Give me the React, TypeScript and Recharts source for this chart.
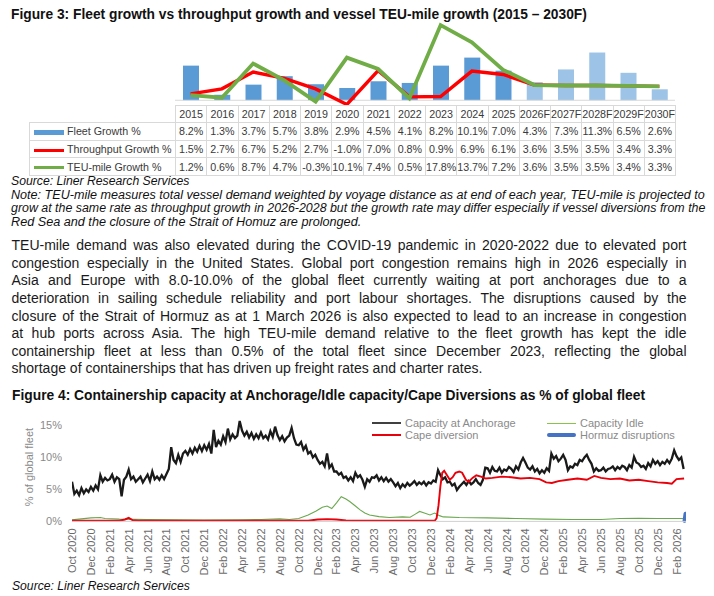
import { useLayoutEffect, useRef, useState } from 'react';
import { ComposedChart, Bar, Line, LineChart, XAxis, YAxis, Cell, ReferenceLine } from 'recharts';

// ---- Figure 3 data ----
const years = ['2015', '2016', '2017', '2018', '2019', '2020', '2021', '2022', '2023', '2024', '2025', '2026F', '2027F', '2028F', '2029F', '2030F'];
const fleetGrowth = [8.2, 1.3, 3.7, 5.7, 3.8, 2.9, 4.5, 4.1, 8.2, 10.1, 7.0, 4.3, 7.3, 11.3, 6.5, 2.6];
const throughputGrowth = [1.5, 2.7, 6.7, 5.2, 2.7, -1.0, 7.0, 0.8, 0.9, 6.9, 6.1, 3.6, 3.5, 3.5, 3.4, 3.3];
const teuMileGrowth = [1.2, 0.6, 8.7, 4.7, -0.3, 10.1, 7.4, 0.5, 17.8, 13.7, 7.2, 3.6, 3.5, 3.5, 3.4, 3.3];
const seriesNames = ['Fleet Growth %', 'Throughput Growth %', 'TEU-mile Growth %'];

// ---- Figure 4 data (months since Oct 2020) ----
const monthTicks = ['Oct 2020', 'Dec 2020', 'Feb 2021', 'Apr 2021', 'Jun 2021', 'Aug 2021', 'Oct 2021', 'Dec 2021', 'Feb 2022', 'Apr 2022', 'Jun 2022', 'Aug 2022', 'Oct 2022', 'Dec 2022', 'Feb 2023', 'Apr 2023', 'Jun 2023', 'Aug 2023', 'Oct 2023', 'Dec 2023', 'Feb 2024', 'Apr 2024', 'Jun 2024', 'Aug 2024', 'Oct 2024', 'Dec 2024', 'Feb 2025', 'Apr 2025', 'Jun 2025', 'Aug 2025', 'Oct 2025', 'Dec 2025', 'Feb 2026'];

// capacity at anchorage, read every quarter month
const anchorage = [
  6.2, 4.3, 4.8, 4.1, 5.2, 4.4, 5.0, 4.6,
  5.4, 4.8, 5.6, 5.0, 7.2, 6.2, 6.8, 6.4,
  6.6, 7.3, 6.2, 6.9, 6.6, 3.9, 6.5, 7.0,
  8.1, 6.6, 7.0, 6.2, 6.6, 7.0, 6.1, 6.7,
  7.3, 6.3, 7.8, 6.6, 7.0, 6.5, 7.2, 6.6,
  7.4, 8.2, 11.6, 9.6, 9.1, 10.4, 9.3, 10.6,
  11.0, 10.4, 11.3, 10.6, 11.5, 10.9, 11.8, 11.0,
  11.9, 11.2, 12.1, 10.6, 14.3, 11.6, 12.6, 12.0,
  13.3, 12.4, 14.5, 12.8, 13.6, 13.0, 13.4, 15.7,
  14.2, 13.4, 14.0, 13.1, 13.8, 12.9, 13.6, 13.0,
  13.9, 13.0, 13.4, 12.8, 14.1, 13.2, 14.8, 13.5,
  12.7, 13.3, 12.5, 13.1, 13.4, 14.6, 13.0, 12.0,
  11.9, 12.4, 11.2, 11.8, 10.6, 10.9, 10.0, 10.4,
  9.6, 9.0, 9.3, 8.6, 10.6, 8.4, 8.9, 7.8,
  7.8, 7.3, 7.6, 6.8, 7.0, 6.4, 6.9, 6.3,
  7.6, 6.9, 7.2, 6.5, 5.4, 6.6, 6.2, 6.9,
  6.8, 7.2, 6.4, 6.9, 6.3, 6.8, 6.2, 6.6,
  6.1, 5.5, 6.0, 5.2, 5.8, 5.4, 6.0, 5.6,
  5.9, 6.3, 5.7, 6.1, 5.8, 6.2, 5.6, 6.1,
  5.9, 6.4, 6.2, 8.0, 7.2, 6.6, 6.9, 6.1,
  6.2, 5.6, 5.9, 4.9, 5.4, 5.8, 6.2, 5.7,
  6.3, 5.8, 6.1, 6.6, 6.0, 5.7, 6.5, 8.4,
  8.3, 7.6, 8.5, 7.9, 7.8, 8.4, 7.6, 8.1,
  7.9, 8.5, 8.2, 7.7, 8.6, 8.1, 9.2, 9.9,
  9.2, 8.4, 8.1, 8.6, 7.8, 8.2, 7.5, 8.0,
  7.6, 8.3, 7.9, 10.6, 9.8, 10.2, 9.4, 9.8,
  10.4, 9.6, 8.0, 8.6, 8.4, 9.0, 8.8, 9.6,
  9.4, 10.0, 10.4, 9.6, 9.0, 7.8, 8.3, 7.9,
  8.0, 8.4, 7.8, 8.2, 8.3, 8.6, 8.0, 8.5,
  8.2, 8.7, 8.5, 8.0, 8.8, 8.4, 10.1, 9.2,
  9.0, 8.5, 8.7, 8.2, 9.1, 8.6, 9.6, 9.0,
  9.4, 8.8, 9.3, 9.0, 9.6, 9.1, 9.8, 11.1,
  10.2, 9.6, 10.0, 8.2,
];

const capeDiversion: [number, number][] = [
  [0, 0.1], [5, 0.1], [5.6, 0.3], [6.0, 0.55], [6.4, 0.2], [7, 0.1], [25, 0.1], [26, 0.3], [27, 0.35],
  [28, 0.3], [29, 0.15], [30, 0.1], [38.4, 0.1], [38.6, 0.5], [38.8, 2.5], [39.0, 5.5], [39.2, 7.6],
  [39.4, 7.9], [39.7, 7.2], [40.0, 6.5], [40.3, 6.9], [40.6, 7.6], [41.0, 7.8], [41.3, 7.6], [41.7, 6.5],
  [42.0, 6.2], [42.4, 6.8], [42.8, 7.2], [43.3, 7.0], [43.8, 6.7], [44.5, 6.8], [45.5, 7.0], [46.5, 6.9],
  [47.5, 6.7], [48.5, 6.8], [49.5, 6.6], [50.2, 6.1], [50.8, 6.0], [51.5, 6.3], [52.5, 6.5], [53.5, 6.7],
  [54.5, 6.5], [55.3, 7.1], [56, 6.8], [57, 6.6], [58, 6.7], [59, 6.4], [60, 6.5], [61, 6.3], [62, 6.1],
  [63, 6.0], [63.5, 5.9], [64, 6.6], [64.8, 6.7],
];

const capacityIdle: [number, number][] = [
  [0, 0.25], [1, 0.4], [2, 0.55], [3, 0.6], [3.5, 0.45], [5, 0.35], [8, 0.3], [14, 0.2], [18, 0.25],
  [20, 0.3], [22, 0.4], [23, 0.3], [24, 0.45], [25, 1.0], [25.8, 1.6], [26.5, 2.2], [27, 2.4], [27.5, 2.0],
  [28, 2.9], [28.5, 3.85], [29, 3.5], [29.4, 3.1], [30, 2.4], [30.5, 1.8], [31, 1.3], [31.5, 1.0],
  [32.5, 0.75], [33.6, 0.6], [35, 0.7], [35.8, 0.65], [36.3, 1.1], [36.8, 1.55], [37.3, 1.3], [37.9, 1.0],
  [38.4, 1.3], [38.9, 0.9], [39.3, 0.7], [41, 0.6], [44, 0.55], [47, 0.45], [50, 0.35], [53, 0.3],
  [56, 0.3], [58, 0.45], [60, 0.5], [62, 0.45], [64.8, 0.45],
];

const hormuz: [number, number][] = [[64.85, 0.1], [64.95, 1.2]];

const legend4 = ['Capacity at Anchorage', 'Capacity Idle', 'Cape diversion', 'Hormuz disruptions'];

const noteLines = [
  'Note: TEU-mile measures total vessel demand weighted by voyage distance as at end of each year, TEU-mile is projected to',
  'grow at the same rate as throughput growth in 2026-2028 but the growth rate may differ especially if vessel diversions from the',
  'Red Sea and the closure of the Strait of Homuz are prolonged.',
];

const paragraph = [
  'TEU-mile demand was also elevated during the COVID-19 pandemic in 2020-2022 due to elevated port',
  'congestion especially in the United States. Global port congestion remains high in 2026 especially in',
  'Asia and Europe with 8.0-10.0% of the global fleet currently waiting at port anchorages due to a',
  'deterioration in sailing schedule reliability and port labour shortages. The disruptions caused by the',
  'closure of the Strait of Hormuz as at 1 March 2026 is also expected to lead to an increase in congestion',
  'at hub ports across Asia. The high TEU-mile demand relative to the fleet growth has kept the idle',
  'containership fleet at less than 0.5% of the total fleet since December 2023, reflecting the global',
  'shortage of containerships that has driven up freight rates and charter rates.',
];

const FONT = '"Liberation Sans", Arial, sans-serif';
const BLUE = '#5b9bd5';
const BLUE_LIGHT = '#9dc3e6';
const RED = '#ff0000';
const GREEN = '#70ad47';

// text squeezed horizontally to a known width (narrow report font)
function Fit({ x, baseline, size, width, text, bold, italic, color = '#111' }: any) {
  const ref = useRef<HTMLSpanElement>(null);
  const [k, setK] = useState(1);
  useLayoutEffect(() => {
    if (ref.current && ref.current.offsetWidth) setK(width / ref.current.offsetWidth);
  }, [width, text]);
  return (
    <span
      ref={ref}
      style={{
        position: 'absolute', left: x, top: baseline - 0.8465 * size, fontSize: size, lineHeight: `${size}px`,
        whiteSpace: 'nowrap', fontWeight: bold ? 'bold' : 'normal', fontStyle: italic ? 'italic' : 'normal',
        color, transform: `scaleX(${k})`, transformOrigin: '0 0',
      }}
    >
      {text}
    </span>
  );
}

// body paragraph: justified lines, last line left
function Paragraph() {
  const size = 14;
  return (
    <>
      {paragraph.map((t, i) => {
        const last = i === paragraph.length - 1;
        return (
          <div
            key={i}
            style={{
              position: 'absolute', left: 11.5, top: 250 + i * 17.6 - 0.8465 * size, width: 675, fontSize: size,
              lineHeight: `${size}px`, color: '#1a1a1a', whiteSpace: 'nowrap',
              textAlign: last ? 'left' : 'justify', textAlignLast: last ? 'left' : 'justify',
            }}
          >
            {t}
          </div>
        );
      })}
    </>
  );
}

function LegendKey({ i }: { i: number }) {
  const c = [BLUE, RED, GREEN][i];
  const h = i === 0 ? 5 : 3;
  return <span style={{ display: 'inline-block', width: 30, height: h, background: c, marginRight: 3, verticalAlign: 'middle' }} />;
}

const XTick = ({ x, y, payload }: any) => (
  <text x={x} y={y} transform={`rotate(-90 ${x} ${y})`} textAnchor="end" dominantBaseline="central" fontSize={11} fill="#6b6b6b" fontFamily={FONT}>
    {monthTicks[Math.round(payload.value / 2)]}
  </text>
);

export default function App() {
  const fig3Data = years.map((y, i) => ({ year: y, fleet: fleetGrowth[i], throughput: throughputGrowth[i], teu: teuMileGrowth[i] }));
  const rows = [fleetGrowth, throughputGrowth, teuMileGrowth];

  const anchorData = anchorage.map((v, i) => ({ m: i * 0.25, v }));
  const toPts = (arr: [number, number][]) => arr.map(([m, v]) => ({ m, v }));

  const cell: React.CSSProperties = { border: '1px solid #d9d9d9', padding: 0, height: 16.6, textAlign: 'center', whiteSpace: 'nowrap' };

  return (
    <div style={{ position: 'absolute', left: 0, top: 0, width: 714, height: 596, background: '#fff', fontFamily: FONT, overflow: 'hidden' }}>
      <Fit x={11} baseline={19} size={14.5} bold width={576} text="Figure 3: Fleet growth vs throughput growth and vessel TEU-mile growth (2015 – 2030F)" />

      {/* Figure 3 chart */}
      <div style={{ position: 'absolute', left: 175, top: 20 }}>
        <ComposedChart width={500} height={84.5} data={fig3Data} margin={{ top: 0, right: 0, bottom: 0, left: 0 }}>
          <XAxis dataKey="year" hide />
          <YAxis hide domain={[-1, 19]} />
          <ReferenceLine y={0} stroke="#d9d9d9" />
          <Bar dataKey="fleet" barSize={16} isAnimationActive={false}>
            {years.map((y, i) => (
              <Cell key={`c-${i}`} fill={y.endsWith('F') ? BLUE_LIGHT : BLUE} />
            ))}
          </Bar>
          <Line dataKey="throughput" type="linear" stroke={RED} strokeWidth={3.4} dot={false} isAnimationActive={false} />
          <Line dataKey="teu" type="linear" stroke={GREEN} strokeWidth={3.8} dot={false} isAnimationActive={false} />
        </ComposedChart>
      </div>

      {/* Figure 3 data table */}
      <table style={{ position: 'absolute', left: 29, top: 104.5, borderCollapse: 'collapse', tableLayout: 'fixed', width: 646, fontSize: 10.7, color: '#3a3a3a' }}>
        <colgroup>
          <col style={{ width: 146 }} />
          {years.map((y) => <col key={y} style={{ width: 31.25 }} />)}
        </colgroup>
        <tbody>
          <tr>
            <td style={{ ...cell, border: 'none' }} />
            {years.map((y) => <td key={y} style={cell}>{y}</td>)}
          </tr>
          {rows.map((r, ri) => (
            <tr key={ri}>
              <td style={{ ...cell, textAlign: 'left', paddingLeft: 4 }}>
                <LegendKey i={ri} />
                {seriesNames[ri]}
              </td>
              {r.map((v, i) => <td key={i} style={cell}>{`${v.toFixed(1)}%`}</td>)}
            </tr>
          ))}
        </tbody>
      </table>

      <Fit x={11} baseline={185} size={12} italic width={178} text="Source: Liner Research Services" />
      <Fit x={11} baseline={199} size={12} italic width={694} text={noteLines[0]} />
      <Fit x={11} baseline={212.5} size={12} italic width={694} text={noteLines[1]} />
      <Fit x={11} baseline={226} size={12} italic width={350} text={noteLines[2]} />

      <Paragraph />

      <Fit x={11.7} baseline={400.7} size={14.5} bold width={633} text="Figure 4: Containership capacity at Anchorage/Idle capacity/Cape Diversions as % of global fleet" />

      {/* Figure 4 chart */}
      <div style={{ position: 'absolute', left: 0, top: 400 }}>
        <LineChart width={714} height={181.4} margin={{ top: 19, right: 28, bottom: 0, left: 22 }}>
          <XAxis
            type="number" dataKey="m" domain={[0, 65]} ticks={monthTicks.map((_, i) => i * 2)} interval={0}
            tick={<XTick />} tickLine={false} tickSize={0} tickMargin={7} height={60} axisLine={{ stroke: '#d0d0d0' }} allowDataOverflow
          />
          <YAxis
            type="number" domain={[0, 16]} ticks={[0, 5, 10, 15]} tickFormatter={(v) => `${v}%`} width={50}
            axisLine={false} tickLine={false} tickSize={0} tickMargin={10} tick={{ fontSize: 11, fill: '#8a8a8a', fontFamily: FONT }}
          />
          <Line data={anchorData} dataKey="v" type="linear" stroke="#1a1a1a" strokeWidth={2.3} dot={false} isAnimationActive={false} />
          <Line data={toPts(capacityIdle)} dataKey="v" type="linear" stroke="#6aa84f" strokeWidth={1.1} dot={false} isAnimationActive={false} />
          <Line data={toPts(capeDiversion)} dataKey="v" type="linear" stroke="#e8000b" strokeWidth={1.9} dot={false} isAnimationActive={false} />
          <Line data={toPts(hormuz)} dataKey="v" type="linear" stroke="#4472c4" strokeWidth={4} strokeLinecap="round" dot={false} isAnimationActive={false} />
        </LineChart>
      </div>

      {/* Figure 4 y-axis title */}
      <div style={{ position: 'absolute', left: 29, top: 467, transform: 'translate(-50%, -50%) rotate(-90deg)', fontSize: 11, color: '#8a8a8a', whiteSpace: 'nowrap' }}>
        % of global fleet
      </div>

      {/* Figure 4 legend */}
      {legend4.map((name, i) => {
        const col = i % 2;
        const row = Math.floor(i / 2);
        const lx = col === 0 ? 372 : 547;
        const ly = row === 0 ? 423.3 : 435;
        const stroke = ['#404040', '#8bc34a', '#e8000b', '#4472c4'][i];
        const sw = [2, 1.5, 2, 4][i];
        return (
          <div key={name}>
            <div style={{ position: 'absolute', left: lx, top: ly - sw / 2, width: 29, height: sw, background: stroke, borderRadius: i === 3 ? 2 : 0 }} />
            <div style={{ position: 'absolute', left: lx + 33, top: ly - 6.5, fontSize: 11, lineHeight: '13px', color: '#8a8a8a', whiteSpace: 'nowrap' }}>{name}</div>
          </div>
        );
      })}

      <Fit x={12} baseline={591} size={12.5} italic width={178} text="Source: Liner Research Services" />
    </div>
  );
}
